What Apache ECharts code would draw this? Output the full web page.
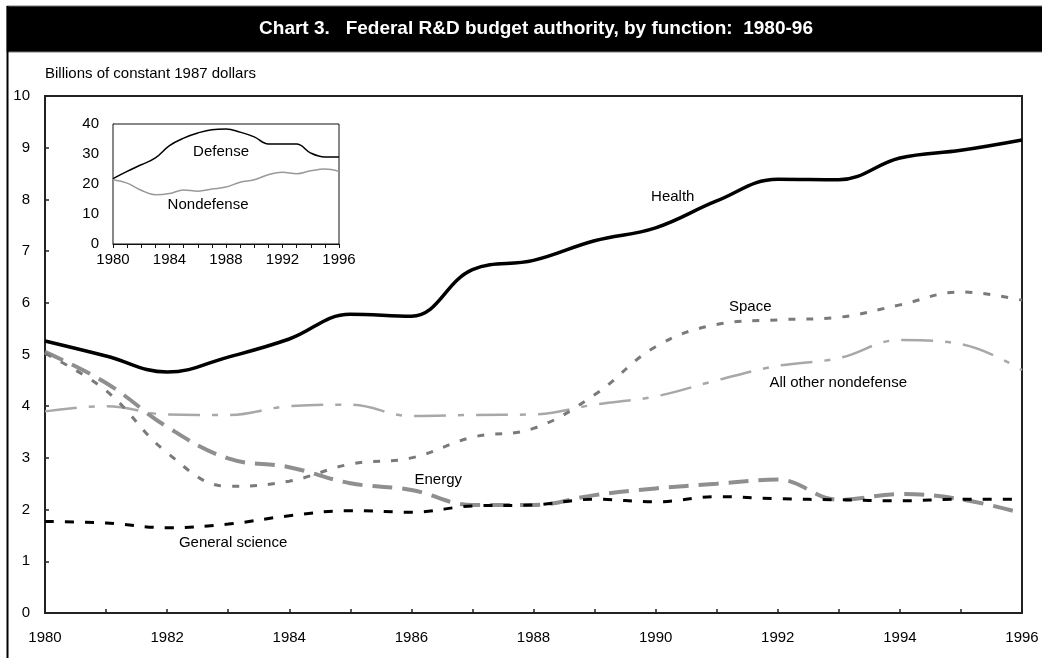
<!DOCTYPE html>
<html>
<head>
<meta charset="utf-8">
<script src="https://cdn.jsdelivr.net/npm/echarts@6/dist/echarts.min.js"></script>
<style>
html,body{margin:0;padding:0;background:#fff;}
#chart{width:1042px;height:658px;}
</style>
</head>
<body>
<div id="chart"></div>
<script>
// ---- data ----
var years = [1980,1981,1982,1983,1984,1985,1986,1987,1988,1989,1990,1991,1992,1993,1994,1995,1996];
var health = [5.26,4.97,4.66,4.95,5.30,5.78,5.74,6.64,6.82,7.20,7.45,7.97,8.39,8.38,8.80,8.95,9.15];
var space = [5.02,4.30,3.10,2.45,2.55,2.88,3.00,3.40,3.57,4.22,5.15,5.58,5.67,5.72,5.96,6.21,6.05];
var allOtherNondefense = [3.90,4.00,3.84,3.83,4.00,4.03,3.81,3.83,3.84,4.03,4.19,4.50,4.78,4.93,5.28,5.20,4.70];
var energy = [5.05,4.45,3.60,2.99,2.82,2.51,2.38,2.09,2.09,2.28,2.41,2.50,2.58,2.19,2.30,2.20,1.93];
var generalScience = [1.77,1.74,1.65,1.72,1.88,1.98,1.95,2.07,2.09,2.20,2.15,2.25,2.21,2.19,2.17,2.20,2.20];
var defense = [21.8,24.2,26.4,28.7,32.8,35.3,37.0,38.1,38.3,37.3,35.7,33.3,33.3,33.3,30.3,29.0,29.0];
var nondefense = [21.4,20.3,17.9,16.4,16.8,18.0,17.6,18.3,19.0,20.6,21.4,23.1,23.9,23.4,24.4,25.0,24.2];
var mainYTicks = [0,1,2,3,4,5,6,7,8,9,10];
var titleText = 'Chart 3.   Federal R&D budget authority, by function:  1980-96';
var unitText = 'Billions of constant 1987 dollars';

function pairs(vals){ return years.map(function(y,i){ return [y, vals[i]]; }); }
var FONT = "'Liberation Sans', Arial, sans-serif";

function lbl(name, x, y){
  return {
    symbol: 'circle',
    symbolSize: 1,
    silent: true,
    z: 30,
    itemStyle: { color: 'rgba(0,0,0,0)' },
    data: [{ coord: [x, y], value: 0, name: name }],
    label: { show: true, position: 'inside', formatter: name, color: '#000', fontSize: 15, fontFamily: FONT }
  };
}

var chart = echarts.init(document.getElementById('chart'), null, {renderer: 'canvas'});
var option = {
  animation: false,
  backgroundColor: '#fff',
  textStyle: { fontFamily: FONT },
  graphic: [
    { type: 'rect', shape: { x: 7, y: 6, width: 1050, height: 46 }, style: { fill: '#000', stroke: '#777', lineWidth: 1 }, z: 100 },
    { type: 'line', shape: { x1: 7.5, y1: 6, x2: 7.5, y2: 670 }, style: { stroke: '#000', lineWidth: 2 }, z: 100 },
    { type: 'text', x: 536, y: 29, style: { text: titleText, fill: '#fff', font: "bold 19px 'Liberation Sans', Arial, sans-serif", align: 'center', verticalAlign: 'middle' }, z: 101 },
    { type: 'text', x: 45, y: 74, style: { text: unitText, fill: '#000', font: "15px 'Liberation Sans', Arial, sans-serif", align: 'left', verticalAlign: 'middle' }, z: 101 }
  ],
  grid: [
    { left: 45, right: 20, top: 96, bottom: 45, show: true, borderColor: '#222', borderWidth: 2, backgroundColor: 'transparent' },
    { left: 113, right: 703, top: 124, bottom: 414, show: true, borderColor: '#111', borderWidth: 1, backgroundColor: '#fff', z: 10 }
  ],
  xAxis: [
    { type: 'value', gridIndex: 0, min: 1980, max: 1996, interval: 2,
      axisLine: { show: true, lineStyle: { color: '#222', width: 2 } },
      axisTick: { show: true, inside: true, length: 4, lineStyle: { color: '#222', width: 1.5 } },
      minorTick: { show: true, splitNumber: 2, length: 4, lineStyle: { color: '#222', width: 1.5 } },
      splitLine: { show: false },
      axisLabel: { color: '#000', fontSize: 15, margin: 17, formatter: function(v){ return String(v); } } },
    { type: 'value', gridIndex: 1, min: 1980, max: 1996, interval: 4,
      axisLine: { show: true, lineStyle: { color: '#111', width: 1 } },
      axisTick: { show: true, inside: false, length: 4, lineStyle: { color: '#111', width: 1 } },
      minorTick: { show: true, splitNumber: 4, length: 4, lineStyle: { color: '#111', width: 1 } },
      splitLine: { show: false },
      axisLabel: { color: '#000', fontSize: 15, margin: 8, formatter: function(v){ return String(v); } } }
  ],
  yAxis: [
    { type: 'value', gridIndex: 0, min: mainYTicks[0], max: mainYTicks[mainYTicks.length-1], interval: 1,
      axisLine: { show: true, lineStyle: { color: '#222', width: 2 } },
      axisTick: { show: true, inside: true, length: 4, lineStyle: { color: '#222', width: 1.5 } },
      splitLine: { show: false },
      axisLabel: { color: '#000', fontSize: 15, margin: 15 } },
    { type: 'value', gridIndex: 1, min: 0, max: 40, interval: 10,
      axisLine: { show: true, lineStyle: { color: '#111', width: 1 } },
      axisTick: { show: false },
      splitLine: { show: false },
      axisLabel: { color: '#000', fontSize: 15, margin: 14 } }
  ],
  series: [
    { name: 'All other nondefense', type: 'line', xAxisIndex: 0, yAxisIndex: 0, data: pairs(allOtherNondefense), smooth: 0.4, symbol: 'none',
      lineStyle: { color: '#a8a8a8', width: 2.5, type: [32, 12, 6, 12] }, markPoint: lbl('All other nondefense', 1992.99, 4.45) },
    { name: 'Energy', type: 'line', xAxisIndex: 0, yAxisIndex: 0, data: pairs(energy), smooth: 0.4, symbol: 'none',
      lineStyle: { color: '#8f8f8f', width: 4, type: [20, 10] }, markPoint: lbl('Energy', 1986.44, 2.57) },
    { name: 'Space', type: 'line', xAxisIndex: 0, yAxisIndex: 0, data: pairs(space), smooth: 0.4, symbol: 'none',
      lineStyle: { color: '#7a7a7a', width: 3, type: [7, 11] }, markPoint: lbl('Space', 1991.55, 5.92) },
    { name: 'General science', type: 'line', xAxisIndex: 0, yAxisIndex: 0, data: pairs(generalScience), smooth: 0.4, symbol: 'none',
      lineStyle: { color: '#000', width: 3, type: [9, 11] }, markPoint: lbl('General science', 1983.08, 1.35) },
    { name: 'Health', type: 'line', xAxisIndex: 0, yAxisIndex: 0, data: pairs(health), smooth: 0.4, symbol: 'none',
      lineStyle: { color: '#000', width: 3.5 }, markPoint: lbl('Health', 1990.28, 8.05) },
    { name: 'Defense', type: 'line', xAxisIndex: 1, yAxisIndex: 1, data: pairs(defense), smooth: 0.4, symbol: 'none', z: 12,
      lineStyle: { color: '#000', width: 1.5 }, markPoint: lbl('Defense', 1987.65, 30.7) },
    { name: 'Nondefense', type: 'line', xAxisIndex: 1, yAxisIndex: 1, data: pairs(nondefense), smooth: 0.4, symbol: 'none', z: 12,
      lineStyle: { color: '#999', width: 1.5 }, markPoint: lbl('Nondefense', 1986.73, 13) }
  ]
};
chart.setOption(option);
</script>
</body>
</html>
